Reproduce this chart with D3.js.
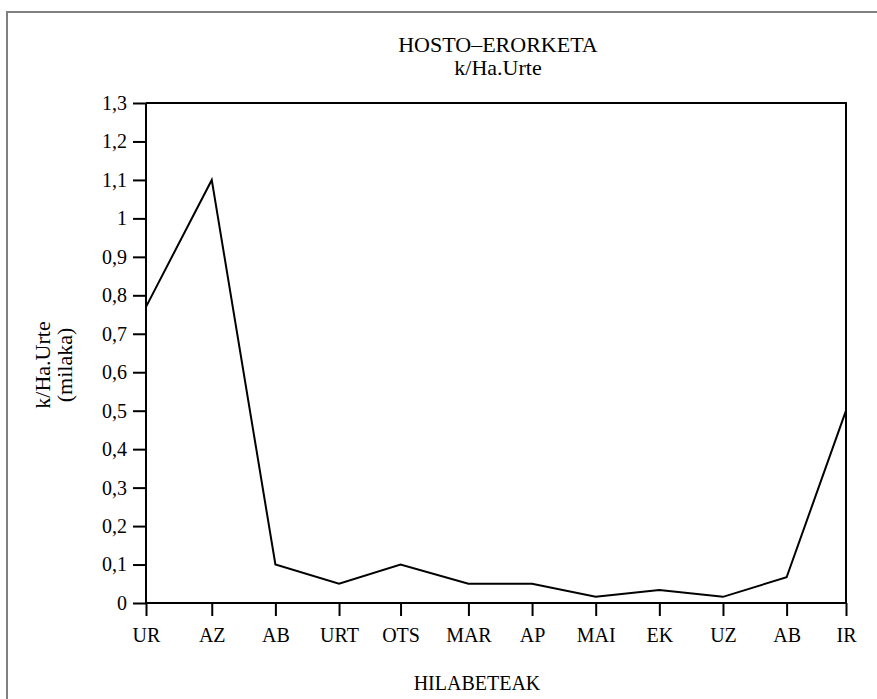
<!DOCTYPE html>
<html>
<head>
<meta charset="utf-8">
<script src="https://cdn.jsdelivr.net/npm/d3@7"></script>
<style>
  html, body { margin: 0; padding: 0; background: #fff; }
  svg { display: block; }
  text { font-family: "Liberation Serif", "Times New Roman", serif; fill: #000; }
</style>
</head>
<body>
<svg id="chart" width="877" height="699"></svg>
<script>
// ---- data ----
const months = ["UR", "AZ", "AB", "URT", "OTS", "MAR", "AP", "MAI", "EK", "UZ", "AB", "IR"];
const sampleDay = [0, 31, 61, 91, 120, 152, 182, 212, 242, 272, 302, 330];
const values = [0.77, 1.1, 0.1, 0.05, 0.1, 0.05, 0.05, 0.016, 0.034, 0.016, 0.067, 0.5];
const yTicks = [0, 0.1, 0.2, 0.3, 0.4, 0.5, 0.6, 0.7, 0.8, 0.9, 1, 1.1, 1.2, 1.3];
const titleLines = ["HOSTO\u2013ERORKETA", "k/Ha.Urte"];
const yTitleLines = ["k/Ha.Urte", "(milaka)"];
const xTitle = "HILABETEAK";

// ---- layout ----
const svg = d3.select("#chart");
const W = 877, H = 699;
const mLeft = 146, mRight = 846, mTop = 103, mBottom = 603;

svg.append("rect").attr("width", W).attr("height", H).attr("fill", "#fff");
// outer frame (only top/left visible in reference)
svg.append("rect")
  .attr("x", 7).attr("y", 12).attr("width", 900).attr("height", 800)
  .attr("fill", "none").attr("stroke", "#808080").attr("stroke-width", 2);

const x = d3.scaleLinear().domain([sampleDay[0], sampleDay[sampleDay.length - 1]]).range([mLeft, mRight]);
const y = d3.scaleLinear().domain([0, 1.3]).range([mBottom, mTop]);

const fmt = d3.formatLocale({ decimal: ",", thousands: ".", grouping: [3], currency: ["", ""] }).format("~g");

// plot box (top and right edges)
svg.append("path")
  .attr("d", `M${mLeft},${mTop}H${mRight}V${mBottom}`)
  .attr("fill", "none").attr("stroke", "#000").attr("stroke-width", 2);

// Y axis
const yAxis = svg.append("g")
  .attr("transform", `translate(${mLeft},0)`)
  .call(d3.axisLeft(y).tickValues(yTicks).tickFormat(fmt).tickSize(13).tickPadding(6));
// X axis
const xAxis = svg.append("g")
  .attr("transform", `translate(0,${mBottom})`)
  .call(d3.axisBottom(x).tickValues(sampleDay).tickFormat((d, i) => months[i]).tickSize(13).tickPadding(12));

[yAxis, xAxis].forEach(g => {
  g.select(".domain").attr("stroke", "#000").attr("stroke-width", 2);
  g.selectAll(".tick line").attr("stroke", "#000").attr("stroke-width", 2);
  g.selectAll(".tick text")
    .attr("font-family", "'Liberation Serif', serif")
    .attr("font-size", 20).attr("fill", "#000");
});
yAxis.select(".domain").attr("d", `M0,${mTop}V${mBottom}`);
xAxis.select(".domain").attr("d", `M${mLeft},0H${mRight}`);

// data line
const line = d3.line()
  .x((d, i) => x(sampleDay[i]))
  .y(d => y(d));
svg.append("path")
  .datum(values)
  .attr("d", line)
  .attr("fill", "none").attr("stroke", "#000").attr("stroke-width", 2)
  .attr("stroke-linejoin", "miter");

// titles
svg.append("text").attr("x", 498).attr("y", 52).attr("text-anchor", "middle")
  .attr("font-size", 22).text(titleLines[0]);
svg.append("text").attr("x", 498).attr("y", 75).attr("text-anchor", "middle")
  .attr("font-size", 22).text(titleLines[1]);

// y title
const yt = svg.append("text").attr("transform", "translate(50,365) rotate(-90)")
  .attr("text-anchor", "middle").attr("font-size", 22);
yt.append("tspan").attr("x", 0).attr("y", 0).text(yTitleLines[0]);
yt.append("tspan").attr("x", 0).attr("y", 22).text(yTitleLines[1]);

// x title
svg.append("text").attr("x", 477).attr("y", 690).attr("text-anchor", "middle")
  .attr("font-size", 20).text(xTitle);
</script>
</body>
</html>
